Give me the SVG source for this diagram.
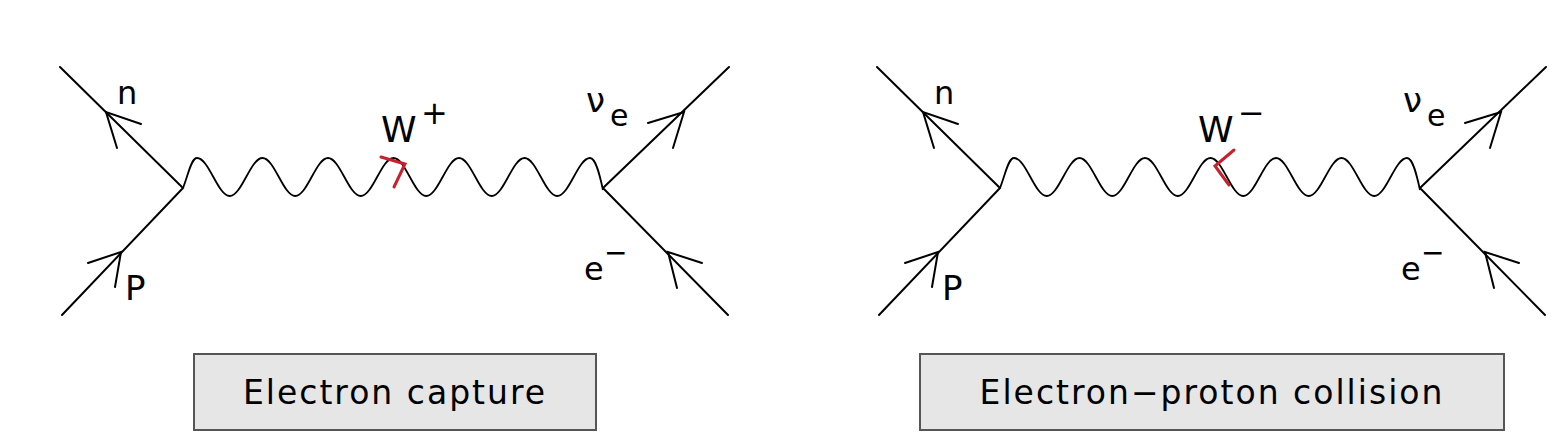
<svg xmlns="http://www.w3.org/2000/svg" width="1568" height="447" viewBox="0 0 1568 447">
<style>
.f{stroke:#000;stroke-width:2;fill:none;stroke-linecap:round}
.w{stroke:#000;stroke-width:1.8;fill:none}
.r{stroke:#c8202c;stroke-width:3;fill:none;stroke-linecap:round}
.t{font-family:"DejaVu Sans",sans-serif;fill:#000}
.box{fill:#e6e6e6;stroke:#555;stroke-width:2}
.bt{font-size:33px;letter-spacing:2px}
</style>
<defs>
<path id="wave" class="w" d="M183,188 C188,176 191,158 197,158 C209,158 217.75,196 229.75,196 C241.75,196 250.5,158 262.5,158 C274.5,158 283.25,196 295.25,196 C307.25,196 316,158 328,158 C340,158 348.75,196 360.75,196 C372.75,196 381.5,158 393.5,158 C405.5,158 414.25,196 426.25,196 C438.25,196 447,158 459,158 C471,158 479.75,196 491.75,196 C503.75,196 512.5,158 524.5,158 C536.5,158 545.25,196 557.25,196 C569.25,196 578,158 590,158 C596,158 600,176 603,190"/>
<g id="legs">
<path class="f" d="M60,67 L183,188 L62,315 M603,188 L729,67 M603,188 L728,315"/>
<path class="f" d="M117,148 L106,112 L141,124 M88,263 L121,252 L115,287 M648,123 L684,112 L673,148 M702,263 L668,252 L677,288"/>
</g>
</defs>
<g id="connectors">
<use href="#wave"/>
<use href="#legs"/>
<path class="r" d="M381,157 L405,164 L394,187"/>
<use href="#wave" transform="translate(817,0)"/>
<use href="#legs" transform="translate(817,0)"/>
<path class="r" d="M1234,150 L1215,166 L1229,185"/>
</g>
<g id="labels-left" class="t">
<text x="117" y="104" font-size="32">n</text>
<text x="381" y="142" font-size="36">W</text>
<text x="421" y="124" font-size="32">+</text>
<text x="586" y="112" font-size="34">ν</text>
<text x="610" y="126" font-size="30">e</text>
<text x="584" y="280" font-size="32">e</text>
<text x="604" y="262" font-size="28">−</text>
<text x="125" y="300" font-size="34">P</text>
</g>
<g id="labels-right" class="t">
<text x="934" y="104" font-size="32">n</text>
<text x="1198" y="142" font-size="36">W</text>
<text x="1238" y="124" font-size="32">−</text>
<text x="1403" y="112" font-size="34">ν</text>
<text x="1427" y="126" font-size="30">e</text>
<text x="1401" y="280" font-size="32">e</text>
<text x="1421" y="262" font-size="28">−</text>
<text x="942" y="300" font-size="34">P</text>
</g>
<g id="box-left">
<rect class="box" x="194" y="354" width="402" height="76"/>
<text class="t bt" x="395" y="404" text-anchor="middle">Electron capture</text>
</g>
<g id="box-right">
<rect class="box" x="920" y="354" width="584" height="76"/>
<text class="t bt" x="1212" y="404" text-anchor="middle">Electron−proton collision</text>
</g>
</svg>
